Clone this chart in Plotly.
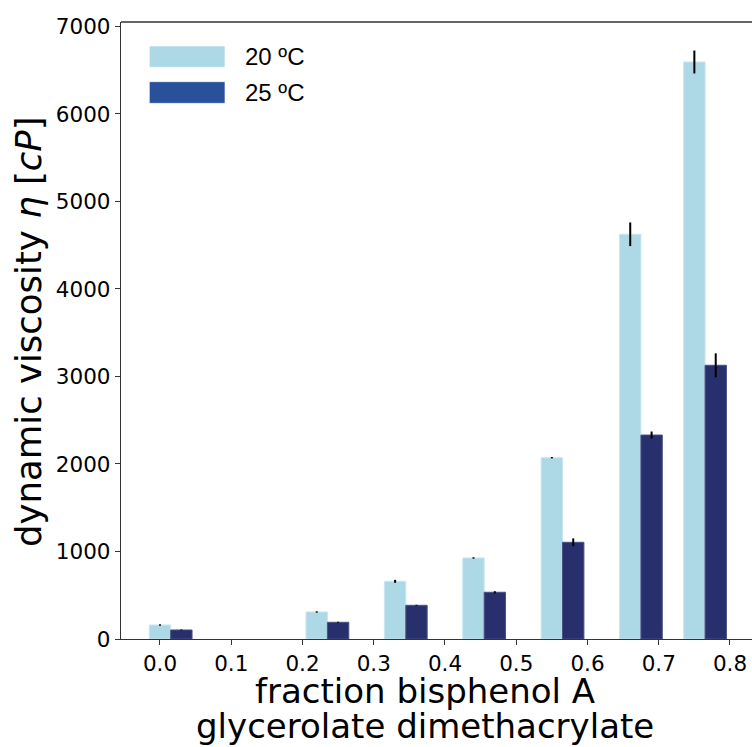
import plotly.graph_objects as go

# ---- data ----
fractions = [0.0, 0.22, 0.33, 0.44, 0.55, 0.66, 0.75]
visc_20 = [160, 309, 659, 926, 2072, 4625, 6594]
err_20 = [8, 8, 17, 8, 8, 135, 131]
visc_25 = [103, 191, 385, 534, 1105, 2331, 3128]
err_25 = [6, 6, 6, 12, 45, 40, 137]
series_names = ["20 ºC", "25 ºC"]
x_ticks = [0.0, 0.1, 0.2, 0.3, 0.4, 0.5, 0.6, 0.7, 0.8]
x_tick_labels = ["0.0", "0.1", "0.2", "0.3", "0.4", "0.5", "0.6", "0.7", "0.8"]
y_ticks = [0, 1000, 2000, 3000, 4000, 5000, 6000, 7000]
y_tick_labels = ["0", "1000", "2000", "3000", "4000", "5000", "6000", "7000"]

# ---- style ----
LIGHT = "#ADD8E6"
DARK = "#272F6C"
LEGEND_DARK = "#28509B"
BAR_W = 0.03
TICK_FONT = dict(family="DejaVu Sans", size=21.5, color="black")
TITLE_FONT = dict(family="DejaVu Sans", size=34, color="black")
AX_COLOR = "#333333"

fig = go.Figure()
fig.add_trace(go.Bar(
    x=fractions, y=visc_20, width=BAR_W, offset=-BAR_W / 2,
    name=series_names[0],
    marker=dict(color=LIGHT, line=dict(color="#C8E6EF", width=1)),
    error_y=dict(type="data", array=err_20, color="black", thickness=2, width=0),
    showlegend=False,
))
fig.add_trace(go.Bar(
    x=fractions, y=visc_25, width=BAR_W, offset=BAR_W / 2,
    name=series_names[1],
    marker=dict(color=DARK, line=dict(color="#4A5186", width=1)),
    error_y=dict(type="data", array=err_25, color="black", thickness=2, width=0),
    showlegend=False,
))

fig.update_layout(
    width=752, height=747,
    margin=dict(l=121, r=0, t=22, b=108),
    paper_bgcolor="white", plot_bgcolor="white",
    barmode="overlay",
    showlegend=False,
)
fig.update_xaxes(
    range=[-0.0547, 0.8309],
    tickmode="array", tickvals=x_ticks, ticktext=x_tick_labels,
    ticks="outside", ticklen=5, tickwidth=1.2, tickcolor=AX_COLOR,
    showline=True, linecolor=AX_COLOR, linewidth=1.3,
    showgrid=False, zeroline=False, tickfont=TICK_FONT,
)
fig.update_yaxes(
    range=[0, 7051],
    tickmode="array", tickvals=y_ticks, ticktext=y_tick_labels,
    ticks="outside", ticklen=5, tickwidth=1.2, tickcolor=AX_COLOR,
    showline=True, linecolor=AX_COLOR, linewidth=1.3,
    showgrid=False, zeroline=False, tickfont=TICK_FONT,
)

# top spine
fig.add_shape(type="line", xref="paper", yref="paper", x0=0, x1=1, y0=1, y1=1,
              line=dict(color=AX_COLOR, width=1.3))

# custom legend (wide patches like matplotlib)
legend_colors = [LIGHT, LEGEND_DARK]
legend_rows = [(0.9266, 0.9611), (0.8682, 0.9032)]
for name, col, (y0, y1) in zip(series_names, legend_colors, legend_rows):
    fig.add_shape(type="rect", xref="paper", yref="paper",
                  x0=0.0449, x1=0.1648, y0=y0, y1=y1,
                  fillcolor=col, line=dict(color="rgba(255,255,255,0.6)", width=1))
    fig.add_annotation(xref="paper", yref="paper", x=0.1938, y=(y0 + y1) / 2,
                       text=name, showarrow=False, xanchor="left", yanchor="middle",
                       font=dict(family="Liberation Sans", size=24, color="black"))

# axis titles
fig.add_annotation(xref="paper", yref="paper", x=-0.1474, y=0.499,
                   text="dynamic viscosity <i>η</i> [<i>cP</i>]", textangle=-90,
                   showarrow=False, xanchor="center", yanchor="middle",
                   font=dict(family="DejaVu Sans", size=35.5, color="black"))
fig.add_annotation(xref="paper", yref="paper", x=0.4818, y=-0.0845,
                   text="fraction bisphenol A", showarrow=False,
                   xanchor="center", yanchor="middle", font=TITLE_FONT)
fig.add_annotation(xref="paper", yref="paper", x=0.4818, y=-0.1405,
                   text="glycerolate dimethacrylate", showarrow=False,
                   xanchor="center", yanchor="middle", font=TITLE_FONT)

fig.write_html("out.html",
               config={"displayModeBar": False},
               post_script="document.body.style.margin='0';document.body.style.overflow='hidden';")
